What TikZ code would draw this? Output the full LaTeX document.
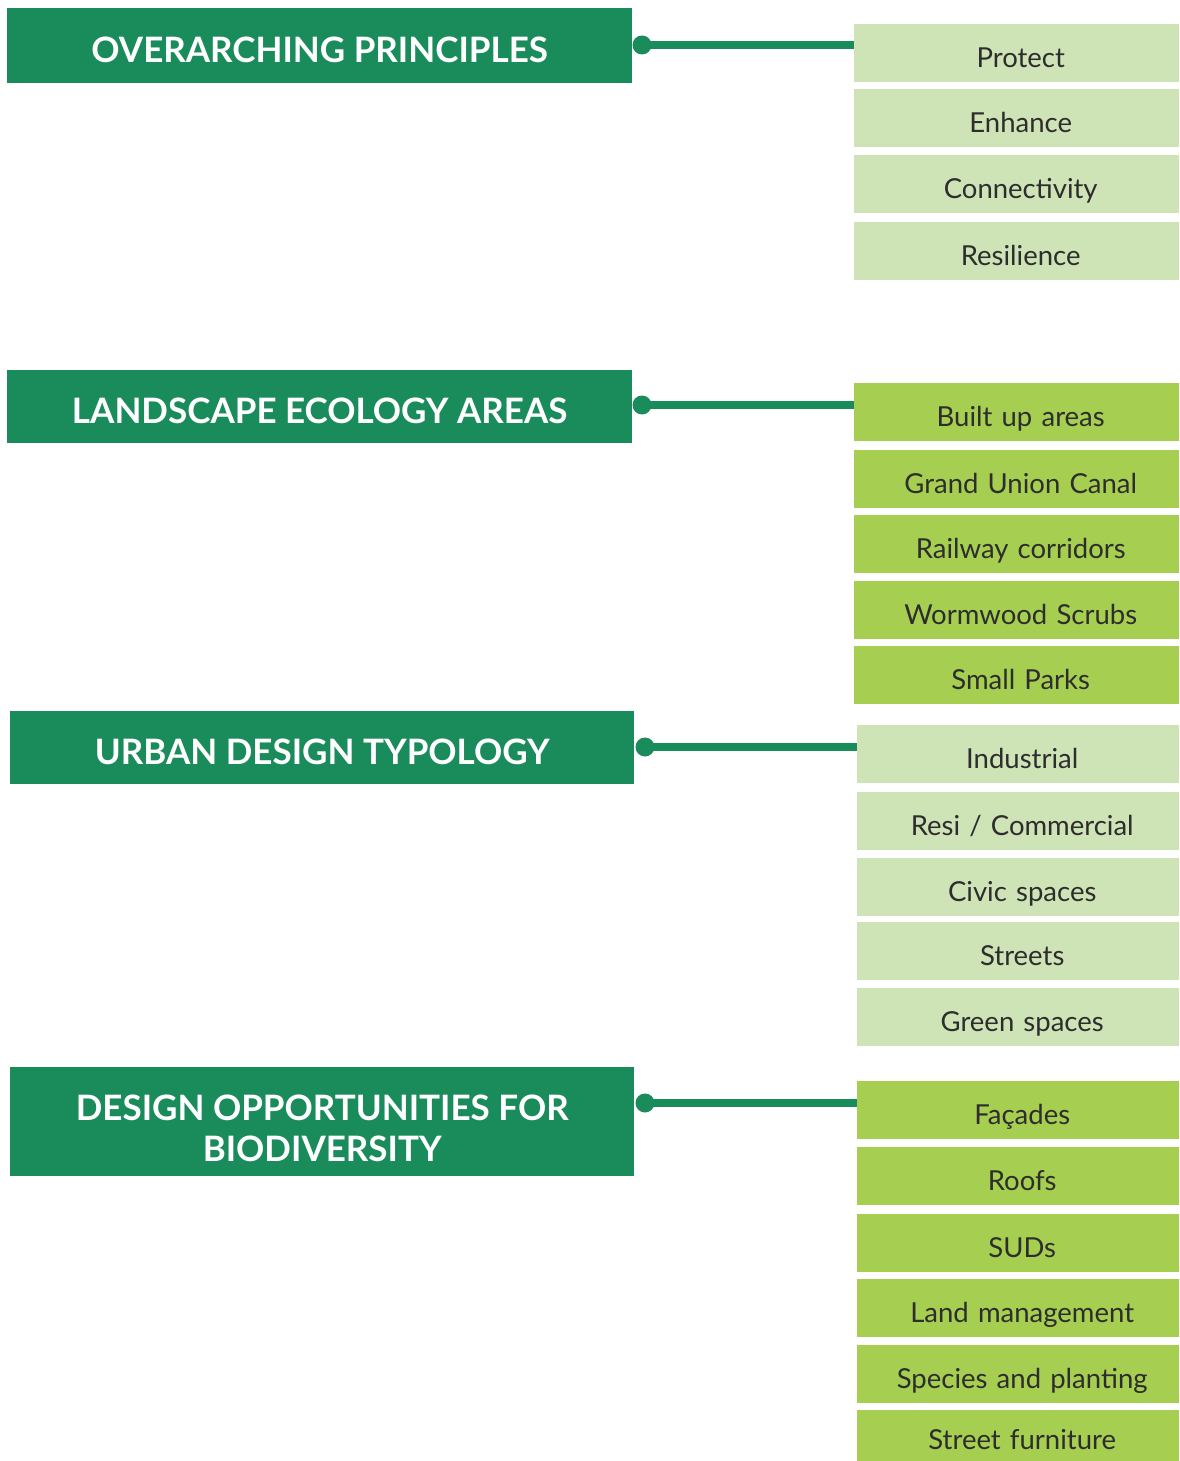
\documentclass[tikz,border=0pt]{standalone}
\usepackage{fontspec}
\setmainfont{Lato}
\definecolor{hdgreen}{RGB}{26,140,92}
\definecolor{palegreen}{RGB}{206,227,182}
\definecolor{limegreen}{RGB}{166,206,80}
\definecolor{itemtext}{RGB}{45,45,45}
\begin{document}
\begin{tikzpicture}[x=1pt,y=-1pt,
  header/.style={fill=hdgreen, draw=none, anchor=north west, inner sep=0pt,
    text=white, font=\bfseries\fontsize{35}{41}\selectfont,
    text height=35pt, text depth=2pt},
  item/.style={draw=none, anchor=north west, inner sep=0pt, minimum height=58pt,
    text=itemtext, font=\fontsize{27.5}{32}\selectfont,
    text height=30pt, text depth=2pt, align=center,
    execute at begin node=\hspace*{8pt}},
  paleitem/.style={item, fill=palegreen},
  limeitem/.style={item, fill=limegreen},
  widecol/.style={minimum width=325pt, text width=325pt},
  narrowcol/.style={minimum width=322pt, text width=322pt},
  link/.style={draw=hdgreen, line width=7.5pt},
  knob/.style={fill=hdgreen}]
\useasboundingbox (0,0) rectangle (1179,1461);

% Section headers
\node[header, minimum width=625pt, minimum height=75pt] (h1) at (7,8) {OVERARCHING PRINCIPLES};
\node[header, minimum width=625pt, minimum height=73pt] (h2) at (7,370) {LANDSCAPE ECOLOGY AREAS};
\node[header, minimum width=624pt, minimum height=73pt] (h3) at (10,711) {URBAN DESIGN TYPOLOGY};
\node[header, minimum width=624pt, minimum height=109pt, text height=40pt, text depth=43pt] (h4) at (10,1067)
  {\parbox[t]{600pt}{\centering DESIGN OPPORTUNITIES FOR\\BIODIVERSITY}};

% Overarching principles
\node[paleitem, widecol] (p1) at (854,24)  {Protect};
\node[paleitem, widecol] (p2) at (854,89)  {Enhance};
\node[paleitem, widecol] (p3) at (854,155) {Connectivity};
\node[paleitem, widecol] (p4) at (854,222) {Resilience};

% Landscape ecology areas
\node[limeitem, widecol] (l1) at (854,383) {Built up areas};
\node[limeitem, widecol] (l2) at (854,450) {Grand Union Canal};
\node[limeitem, widecol] (l3) at (854,515) {Railway corridors};
\node[limeitem, widecol] (l4) at (854,581) {Wormwood Scrubs};
\node[limeitem, widecol] (l5) at (854,646) {Small Parks};

% Urban design typology
\node[paleitem, narrowcol] (u1) at (857,725) {Industrial};
\node[paleitem, narrowcol] (u2) at (857,792) {Resi / Commercial};
\node[paleitem, narrowcol] (u3) at (857,858) {Civic spaces};
\node[paleitem, narrowcol] (u4) at (857,922) {Streets};
\node[paleitem, narrowcol] (u5) at (857,988) {Green spaces};

% Design opportunities for biodiversity
\node[limeitem, narrowcol] (d1) at (857,1081) {Façades};
\node[limeitem, narrowcol] (d2) at (857,1147) {Roofs};
\node[limeitem, narrowcol] (d3) at (857,1214) {SUDs};
\node[limeitem, narrowcol] (d4) at (857,1279) {Land management};
\node[limeitem, narrowcol] (d5) at (857,1345) {Species and planting};
\node[limeitem, narrowcol, minimum height=52pt, text height=27pt, text depth=1pt] (d6) at (857,1410) {Street furniture};

% Connectors: a round knob on each header, a bar to its first item
\coordinate (k1) at (642,45);
\coordinate (k2) at (642,405);
\coordinate (k3) at (645,747);
\coordinate (k4) at (645,1103);
\draw[link] (k1) -- (k1 -| p1.west);
\draw[link] (k2) -- (k2 -| l1.west);
\draw[link] (k3) -- (k3 -| u1.west);
\draw[link] (k4) -- (k4 -| d1.west);
\foreach \k in {k1,k2,k3,k4} \fill[knob] (\k) circle (9.5pt);
\end{tikzpicture}
\end{document}
